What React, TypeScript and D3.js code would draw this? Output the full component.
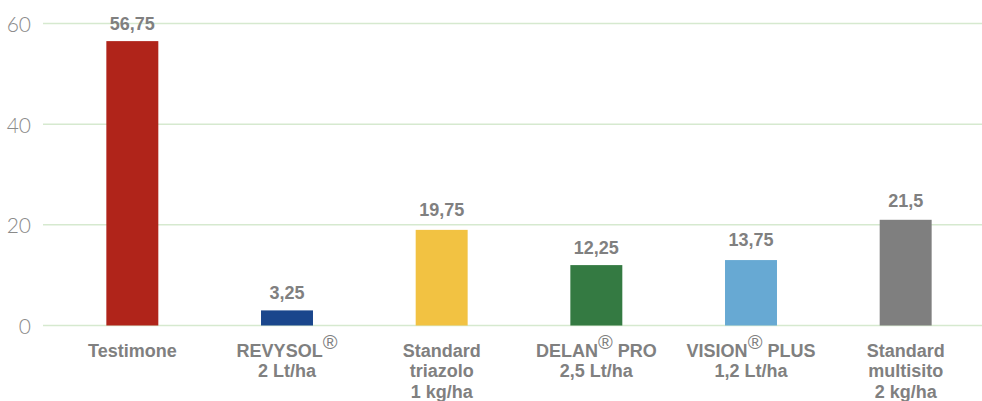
import React, { useEffect } from "react";
import * as d3 from "d3";

const categories = [
  "Testimone",
  "REVYSOL®\n2 Lt/ha",
  "Standard\ntriazolo\n1 kg/ha",
  "DELAN® PRO\n2,5 Lt/ha",
  "VISION® PLUS\n1,2 Lt/ha",
  "Standard\nmultisito\n2 kg/ha",
];
const barValues = [56.5, 3, 19, 12, 13, 21];
const labelValues = [56.75, 3.25, 19.75, 12.25, 13.75, 21.5];
const labelTexts = ["56,75", "3,25", "19,75", "12,25", "13,75", "21,5"];
const colors = ["#b0241a", "#1a468c", "#f2c242", "#347a42", "#67a9d3", "#7f7f7f"];
const yTicks = [0, 20, 40, 60];

const W = 982;
const H = 401;

export default function App() {
  useEffect(() => {
    document.body.style.margin = "0";
  }, []);

  const x = d3
    .scaleBand<string>()
    .domain(categories)
    .range([55, 983])
    .paddingInner(0.664)
    .paddingOuter(0.332);
  const y = d3.scaleLinear().domain([0, 60]).range([325.5, 23.5]);
  const barW = x.bandwidth();

  const textColor = "#808080";
  const font = "'Liberation Sans', Arial, Helvetica, sans-serif";

  const renderLine = (line: string) => {
    const parts = line.split("®");
    const out: React.ReactNode[] = [];
    parts.forEach((p, i) => {
      if (i > 0) {
        out.push(
          <tspan key={"r" + i} dy={-8} fontSize={20} fontWeight={400}>
            ®
          </tspan>
        );
        out.push(
          <tspan key={"p" + i} dy={8}>
            {p}
          </tspan>
        );
      } else {
        out.push(<tspan key={"p" + i}>{p}</tspan>);
      }
    });
    return out;
  };

  return (
    <svg
      width={W}
      height={H}
      style={{ position: "absolute", left: 0, top: 0, background: "#fff" }}
      fontFamily={font}
    >
      {yTicks.map((t) => (
        <g key={t}>
          <line x1={43} x2={W} y1={y(t)} y2={y(t)} stroke="#d6e9cf" strokeWidth={1.5} />
          <text
            x={31}
            y={y(t)}
            textAnchor="end"
            dominantBaseline="central"
            fontSize={21}
            fill="#8a8a8a"
            fontFamily="Lato, 'Liberation Sans', sans-serif"
            fontWeight={300}
          >
            {t}
          </text>
        </g>
      ))}
      {categories.map((c, i) => (
        <rect
          key={c}
          x={x(c) as number}
          y={y(barValues[i])}
          width={barW}
          height={y(0) - y(barValues[i])}
          fill={colors[i]}
        />
      ))}
      {categories.map((c, i) => (
        <text
          key={"v" + i}
          x={(x(c) as number) + barW / 2}
          y={y(labelValues[i]) - 10}
          textAnchor="middle"
          fontSize={18}
          fontWeight={700}
          fill={textColor}
        >
          {labelTexts[i]}
        </text>
      ))}
      {categories.map((c, i) =>
        c.split("\n").map((line, j) => (
          <text
            key={"c" + i + "_" + j}
            x={(x(c) as number) + barW / 2}
            y={356.5 + j * 20.8}
            textAnchor="middle"
            fontSize={18}
            fontWeight={700}
            fill={textColor}
          >
            {renderLine(line)}
          </text>
        ))
      )}
    </svg>
  );
}
